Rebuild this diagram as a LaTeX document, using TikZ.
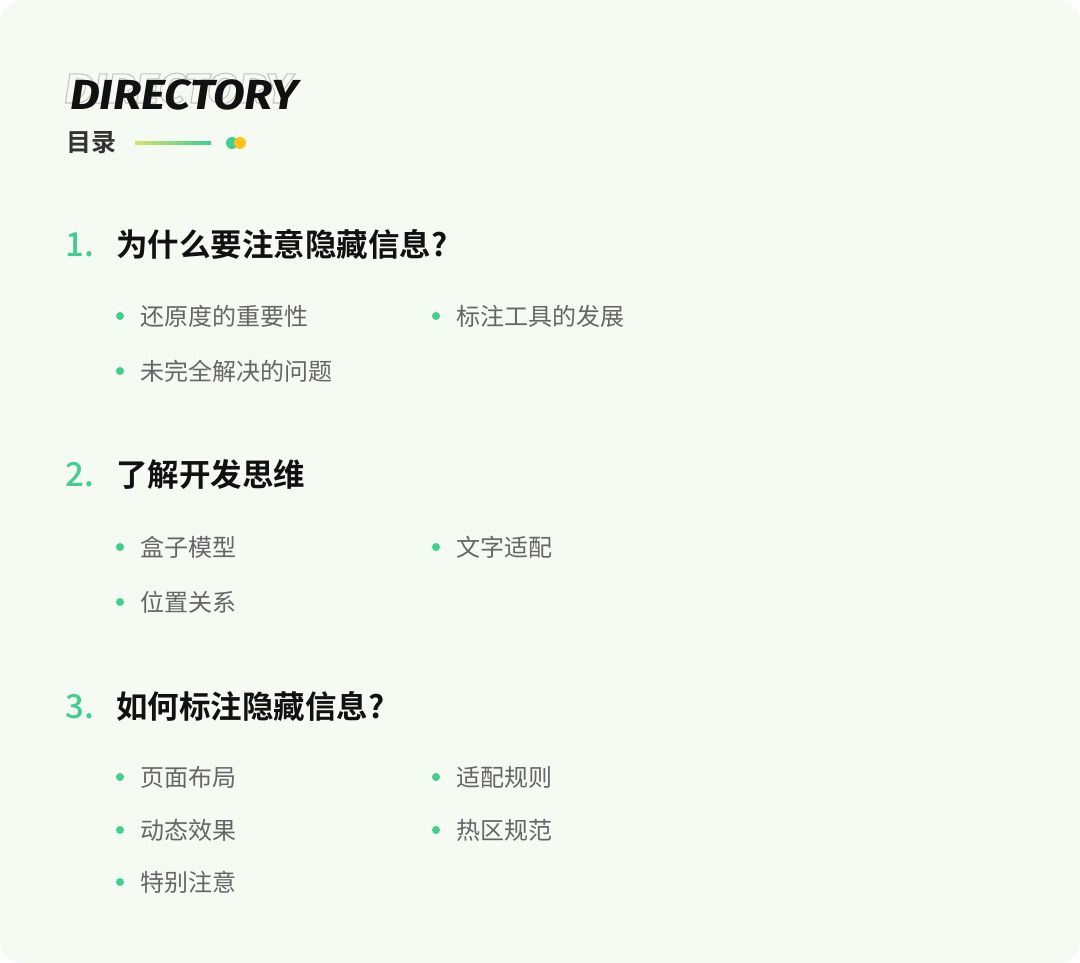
\documentclass[tikz,border=0pt]{standalone}
\usepackage{fontspec}
\setmainfont{Noto Sans CJK SC}[BoldFont={* Bold}]
\newfontfamily\numfont{Noto Sans CJK SC}[UprightFont={* Medium}]
\newfontfamily\dirfont{Fira Sans}[FakeStretch=1.1]
\usetikzlibrary{positioning}
\definecolor{bgcol}{HTML}{F5FAF3}
\definecolor{numcol}{HTML}{40CF8F}
\definecolor{dotorange}{HTML}{FFC21E}
\definecolor{linestart}{HTML}{CFE46B}
\definecolor{headcol}{HTML}{111111}
\definecolor{itemcol}{HTML}{666666}
\definecolor{tagcol}{HTML}{333333}
\definecolor{ghostcol}{HTML}{BFC4BF}
\tikzstyle{head} = [anchor=west, inner sep=0pt, text height=24pt, text depth=0pt,
    font=\fontsize{31.5}{31.5}\selectfont\bfseries, text=headcol]
\tikzstyle{num} = [anchor=west, inner sep=0pt, text height=24pt, text depth=0pt,
    font=\numfont\fontsize{33}{33}\selectfont, text=numcol]
\tikzstyle{item} = [inner sep=0pt, text height=18.2pt, text depth=0pt,
    font=\fontsize{24}{24}\selectfont, text=itemcol]
\tikzstyle{dot} = [circle, fill=numcol, inner sep=0pt, minimum size=8pt]
\tikzstyle{big} = [anchor=base west, inner sep=0pt,
    font=\dirfont\fontsize{42}{42}\selectfont\bfseries\itshape]

\begin{document}
\begin{tikzpicture}[x=1pt, y=-1pt]
    \useasboundingbox (0,0) rectangle (1080,963);
    % Card
    \fill[white] (0,0) rectangle (1080,963);
    \fill[bgcol, rounded corners=22pt] (0,0) rectangle (1080,963);
    % Title
    \node [big, text=ghostcol] (ghost) at (64,103)
        {\special{pdf:literal direct 1 Tr 1 w}DIRECTORY\special{pdf:literal direct 0 Tr}};
    \node [big, text=headcol] (dir) at (70,110) {DIRECTORY};
    \node [anchor=west, inner sep=0pt, font=\fontsize{25}{25}\selectfont\bfseries,
        text=tagcol] (tag) at (66,143) {目录};
    \shade [left color=linestart, right color=numcol] (135,141.5) rectangle (211,144.5);
    \node [circle, fill=numcol, inner sep=0pt, minimum size=12pt] (g) at (232,143) {};
    \node [circle, fill=dotorange, inner sep=0pt, minimum size=12pt] (o) at (240,143) {};
    % Part 1
    \node [num] (n1) at (65,244) {1.};
    \node [head] (h1) at (116,244) {为什么要注意隐藏信息?};
    \node [dot] (d11) at (120,316) {};
    \node [item, right=16pt of d11] (t11) {还原度的重要性};
    \node [dot] (d12) at (436,316) {};
    \node [item, right=16pt of d12] (t12) {标注工具的发展};
    \node [dot] (d13) at (120,371) {};
    \node [item, right=16pt of d13] (t13) {未完全解决的问题};
    % Part 2
    \node [num] (n2) at (65,474) {2.};
    \node [head] (h2) at (116,474) {了解开发思维};
    \node [dot] (d21) at (120,547) {};
    \node [item, right=16pt of d21] (t21) {盒子模型};
    \node [dot] (d22) at (436,547) {};
    \node [item, right=16pt of d22] (t22) {文字适配};
    \node [dot] (d23) at (120,602) {};
    \node [item, right=16pt of d23] (t23) {位置关系};
    % Part 3
    \node [num] (n3) at (65,706) {3.};
    \node [head] (h3) at (116,706) {如何标注隐藏信息?};
    \node [dot] (d31) at (120,777) {};
    \node [item, right=16pt of d31] (t31) {页面布局};
    \node [dot] (d32) at (436,777) {};
    \node [item, right=16pt of d32] (t32) {适配规则};
    \node [dot] (d33) at (120,830) {};
    \node [item, right=16pt of d33] (t33) {动态效果};
    \node [dot] (d34) at (436,830) {};
    \node [item, right=16pt of d34] (t34) {热区规范};
    \node [dot] (d35) at (120,882) {};
    \node [item, right=16pt of d35] (t35) {特别注意};
\end{tikzpicture}
\end{document}
